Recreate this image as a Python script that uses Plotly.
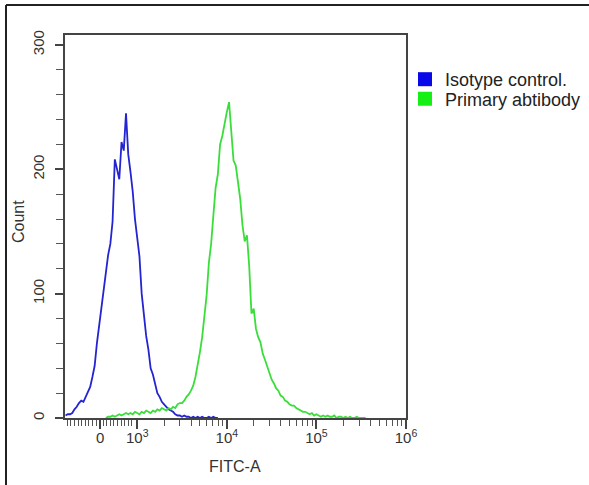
import math
import plotly.graph_objects as go

# ---------------- data ----------------
# Display-scale coordinate of the FITC axis (decades; 10^k -> k, "0" -> 2.586)
bin_width = 0.025
blue_first_bin = 2.200
blue_counts = [2, 3, 3, 4, 7, 9, 12, 14, 13, 17, 21, 25, 33, 42, 60, 74, 90, 104, 118, 131,
               140, 158, 208, 200, 192, 222, 215, 245, 212, 198, 182, 160, 146, 130, 100, 80,
               66, 55, 40, 35, 28, 20, 17, 13, 11, 9, 7, 6, 5, 3, 2, 2, 1, 2, 1, 1, 0, 1, 0,
               1, 0, 1, 0, 0, 1, 0, 1, 0, 0]

green_first_bin = 2.650
green_counts = [0, 1, 1, 2, 1, 2, 3, 2, 3, 4, 3, 4, 3, 5, 4, 3, 5, 4, 6, 5, 4, 6, 5, 7, 6,
                8, 7, 6, 8, 7, 9, 8, 11, 12, 12, 14, 17, 19, 22, 26, 33, 42, 53, 65, 82, 99,
                125, 140, 163, 185, 196, 220, 227, 238, 246, 254, 232, 207, 203, 190, 176,
                155, 142, 147, 122, 84, 88, 72, 65, 61, 52, 47, 41, 36, 31, 28, 24, 22, 18,
                17, 14, 13, 11, 10, 10, 8, 7, 6, 5, 5, 4, 3, 4, 2, 3, 2, 1, 2, 1, 2, 1, 1, 2,
                0, 1, 1, 0, 1, 0, 1, 0, 0, 1, 0, 0, 0, 0]

series_names = ["Isotype control.", "Primary abtibody"]
line_colors = ["#2424d2", "#3ade3a"]
legend_colors = ["#0808e8", "#14f014"]

x_tick_vals = [2.586, 3, 4, 5, 6]
x_tick_text = ["0", "10<sup>3</sup>", "10<sup>4</sup>", "10<sup>5</sup>", "10<sup>6</sup>"]
y_tick_vals = [0, 100, 200, 300]

# ---------------- figure ----------------
blue_x = [blue_first_bin + i * bin_width for i in range(len(blue_counts))]
green_x = [green_first_bin + i * bin_width for i in range(len(green_counts))]

fig = go.Figure()
fig.add_trace(go.Scatter(x=blue_x, y=blue_counts, mode="lines",
                         line=dict(color=line_colors[0], width=1.8), showlegend=False))
fig.add_trace(go.Scatter(x=green_x, y=green_counts, mode="lines",
                         line=dict(color=line_colors[1], width=1.8), showlegend=False))
for name, col, lg in zip(series_names, legend_colors, ["legend", "legend2"]):
    fig.add_trace(go.Scatter(x=[None], y=[None], mode="markers", name=name, legend=lg,
                             marker=dict(symbol="square", size=14, color=col,
                                         line=dict(width=0))))

# minor ticks on x: linear region + log decades
minor_x = [2.22 + 0.04 * i for i in range(19)]
for k in (3, 4, 5):
    for m in range(2, 10):
        minor_x.append(k + math.log10(m))

L, R, T, B = 65, 406, 35, 418
W, H = 589, 485

def px(xp):
    return (xp - L) / (R - L)

def py(yp):
    return (B - yp) / (B - T)

legend_style = dict(xanchor="left", yanchor="middle",
                    font=dict(size=18, color="#222222"), bgcolor="rgba(0,0,0,0)",
                    itemsizing="trace")

fig.update_layout(
    width=W, height=H,
    margin=dict(l=L, r=W - R, t=T, b=H - B, pad=0, autoexpand=False),
    paper_bgcolor="white", plot_bgcolor="white",
    font=dict(family="Liberation Sans, Arial, sans-serif", color="#333333"),
    showlegend=True,
    legend=dict(x=px(405), y=py(79.5), **legend_style),
    legend2=dict(x=px(405), y=py(99), **legend_style),
    xaxis=dict(range=[2.194, 6.0], tickmode="array", tickvals=x_tick_vals,
               ticktext=x_tick_text, ticks="outside", ticklen=9, tickwidth=1.5,
               tickcolor="#444444", showline=True, linecolor="#444444", linewidth=2,
               mirror=True, showgrid=False, zeroline=False, automargin=False,
               ticklabelstandoff=-4,
               tickfont=dict(size=15, color="#333333"),
               minor=dict(tickmode="array", tickvals=minor_x, ticks="outside",
                          ticklen=6, tickwidth=1.2, tickcolor="#555555", showgrid=False)),
    yaxis=dict(range=[0, 308], tickmode="array", tickvals=y_tick_vals,
               ticks="outside", ticklen=8, tickwidth=1.5, tickcolor="#444444",
               tickangle=-90, showline=True, linecolor="#444444", linewidth=2,
               mirror=True, showgrid=False, zeroline=False, ticklabelstandoff=5,
               automargin=False,
               tickfont=dict(size=15, color="#333333"),
               minor=dict(dtick=20, ticks="outside", ticklen=7, tickwidth=1.2,
                          tickcolor="#555555", showgrid=False)),
    annotations=[
        dict(text="FITC-A", xref="paper", yref="paper", x=px(235), y=py(466),
             xanchor="center", yanchor="middle", showarrow=False,
             font=dict(size=16, color="#333333")),
        dict(text="Count", xref="paper", yref="paper", x=px(18), y=py(222),
             xanchor="center", yanchor="middle", showarrow=False, textangle=-90,
             font=dict(size=16, color="#333333")),
    ],
)

# outer frame of the picture (top and left edges)
fig.add_shape(type="line", xref="paper", yref="paper", x0=px(6), x1=px(589),
              y0=py(5), y1=py(5), line=dict(color="#222222", width=2))
fig.add_shape(type="line", xref="paper", yref="paper", x0=px(6), x1=px(6),
              y0=py(5), y1=py(485), line=dict(color="#222222", width=2))

fig.write_html("out.html", config={"displayModeBar": False},
               post_script="document.body.style.margin='0';")
